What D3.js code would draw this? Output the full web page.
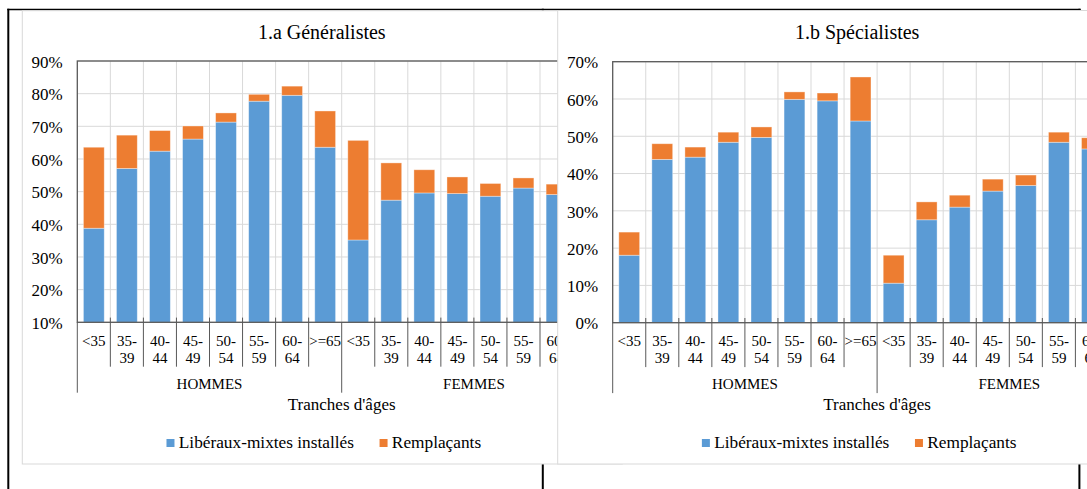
<!DOCTYPE html>
<html lang="fr">
<head>
<meta charset="utf-8">
<title>Généralistes / Spécialistes par tranche d'âges</title>
<script src="https://cdn.jsdelivr.net/npm/d3@7"></script>
<style>
  html, body { margin: 0; padding: 0; background: #fff; }
  svg { display: block; }
  text { font-family: "Liberation Serif", "Times New Roman", serif; fill: #000; }
</style>
</head>
<body>
<div id="chart"></div>
<script>
// age brackets, repeated for each sex
const ageGroups = ["<35", "35-39", "40-44", "45-49", "50-54", "55-59", "60-64", ">=65"];
const sexes = ["HOMMES", "FEMMES"];
const seriesNames = ["Libéraux-mixtes installés", "Remplaçants"];

// 1.a Généralistes, % (hommes then femmes)
const genInstalles   = [38.8, 57.1, 62.4, 66.1, 71.3, 77.7, 79.5, 63.6, 35.2, 47.4, 49.6, 49.4, 48.6, 51.1, 49.1, 45.0];
const genRemplacants = [24.8, 10.2,  6.3,  4.0,  2.8,  2.1,  2.8, 11.1, 30.5, 11.4,  7.1,  5.1,  3.9,  3.1,  3.2,  4.0];
const genTicks = [10, 20, 30, 40, 50, 60, 70, 80, 90];

// 1.b Spécialistes, %
const specInstalles   = [18.1, 43.8, 44.4, 48.4, 49.7, 59.9, 59.5, 54.1, 10.6, 27.6, 31.0, 35.3, 36.8, 48.4, 46.6, 40.0];
const specRemplacants = [ 6.2,  4.2,  2.7,  2.7,  2.8,  2.0,  2.1, 11.8,  7.5,  4.8,  3.2,  3.2,  2.8,  2.7,  3.0,  6.0];
const specTicks = [0, 10, 20, 30, 40, 50, 60, 70];

const colors = ["#5b9bd5", "#ed7d31"];
const W = 1087, H = 489;

const svg = d3.select("#chart").append("svg")
    .attr("width", W)
    .attr("height", H);

// table frame around the two charts
const frame = svg.append("g").attr("stroke", "#000").attr("fill", "none");
frame.append("line")
    .attr("x1", 7.3).attr("x2", 1080.7)
    .attr("y1", 9.5).attr("y2", 9.5)
    .attr("stroke-width", 1.5);
[8.3, 542.8, 1079.4].forEach(x => {
    frame.append("line")
        .attr("x1", x).attr("x2", x)
        .attr("y1", 8.8).attr("y2", H)
        .attr("stroke-width", 2);
});

const panels = [
    { title: "1.a Généralistes", installes: genInstalles, remplacants: genRemplacants, ticks: genTicks,
      area: { x: 22.3, y: 10.7, w: 600, bottom: 464 },
      plot: { x: 77.3, y: 61, w: 528.8, h: 261.3 } },
    { title: "1.b Spécialistes", installes: specInstalles, remplacants: specRemplacants, ticks: specTicks,
      area: { x: 557.7, y: 10.5, w: 600, bottom: 464 },
      plot: { x: 612.7, y: 61.7, w: 528.8, h: 261 } }
];

panels.forEach(p => drawPanel(p));

function drawPanel(p) {
    const g = svg.append("g");
    const cats = sexes.flatMap(s => ageGroups.map(a => s + "|" + a));
    const bottom = p.plot.y + p.plot.h;
    const right = p.plot.x + p.plot.w;

    const x = d3.scaleBand()
        .domain(cats)
        .range([p.plot.x, right])
        .paddingInner(0.37)
        .paddingOuter(0.185);

    const y = d3.scaleLinear()
        .domain([p.ticks[0], p.ticks[p.ticks.length - 1]])
        .range([bottom, p.plot.y])
        .clamp(true);

    // chart area (white, covers whatever is behind)
    g.append("rect")
        .attr("x", p.area.x)
        .attr("y", p.area.y)
        .attr("width", p.area.w)
        .attr("height", p.area.bottom - p.area.y)
        .attr("fill", "#fff")
        .attr("stroke", "#d9d9d9");

    const cx = p.area.x + p.area.w / 2;

    g.append("text")
        .attr("x", cx - 0.5)
        .attr("y", 39.3)
        .attr("text-anchor", "middle")
        .style("font-size", "20px")
        .text(p.title);

    // gridlines
    g.append("g").selectAll("line")
        .data(p.ticks)
        .enter().append("line")
        .attr("x1", p.plot.x).attr("x2", right)
        .attr("y1", d => y(d)).attr("y2", d => y(d))
        .attr("stroke", "#d9d9d9");

    const step = x.step();
    const bounds = d3.range(cats.length + 1).map(i => p.plot.x + step * i);
    g.append("g").selectAll("line")
        .data(bounds.slice(1, -1))
        .enter().append("line")
        .attr("x1", d => d).attr("x2", d => d)
        .attr("y1", p.plot.y).attr("y2", bottom)
        .attr("stroke", "#d9d9d9");

    // stacked bars
    const rows = cats.map((c, i) => ({ cat: c, installes: p.installes[i], remplacants: p.remplacants[i] }));
    const stacked = d3.stack().keys(["installes", "remplacants"])(rows);

    g.append("g").selectAll("g")
        .data(stacked)
        .enter().append("g")
        .attr("fill", (d, i) => colors[i])
        .selectAll("rect")
        .data(d => d)
        .enter().append("rect")
        .attr("x", d => x(d.data.cat))
        .attr("y", d => y(d[1]))
        .attr("width", x.bandwidth())
        .attr("height", d => y(d[0]) - y(d[1]))
        .attr("stroke", "#fff")
        .attr("stroke-opacity", 0.45)
        .attr("stroke-width", 0.8);

    // plot border
    g.append("rect")
        .attr("x", p.plot.x).attr("y", p.plot.y)
        .attr("width", p.plot.w).attr("height", p.plot.h)
        .attr("fill", "none")
        .attr("stroke", "#595959")
        .attr("stroke-width", 1.3);

    // y axis
    const yAxis = d3.axisLeft(y)
        .tickValues(p.ticks)
        .tickSize(0)
        .tickPadding(14.6)
        .tickFormat(d => d + "%");
    const ag = g.append("g")
        .attr("transform", `translate(${p.plot.x},0)`)
        .call(yAxis);
    ag.select(".domain").remove();
    ag.attr("font-size", 17);
    ag.selectAll("text").attr("dy", "0.37em");

    // multi-level category axis
    const tickG = g.append("g").attr("stroke", "#595959");
    bounds.forEach((bx, i) => {
        const groupEdge = i % ageGroups.length === 0;
        tickG.append("line")
            .attr("x1", bx).attr("x2", bx)
            .attr("y1", groupEdge ? bottom : bottom - 4.7)
            .attr("y2", groupEdge ? bottom + 70.4 : bottom + 44.4);
    });

    const lab = g.append("g")
        .attr("text-anchor", "middle")
        .style("font-size", "15px");
    cats.forEach(c => {
        const age = c.split("|")[1];
        const lines = age.includes("-") ? [age.split("-")[0] + "-", age.split("-")[1]] : [age];
        const t = lab.append("text")
            .attr("x", x(c) + x.bandwidth() / 2)
            .attr("y", bottom + 23.4);
        lines.forEach((l, k) => {
            t.append("tspan")
                .attr("x", x(c) + x.bandwidth() / 2)
                .attr("dy", k === 0 ? 0 : 17)
                .text(l);
        });
    });

    sexes.forEach((s, i) => {
        const x0 = bounds[i * ageGroups.length];
        const x1 = bounds[(i + 1) * ageGroups.length];
        lab.append("text")
            .attr("x", (x0 + x1) / 2)
            .attr("y", bottom + 66.7)
            .text(s);
    });

    g.append("text")
        .attr("x", (p.plot.x + right) / 2)
        .attr("y", 410)
        .attr("text-anchor", "middle")
        .style("font-size", "17px")
        .text("Tranches d'âges");

    // legend, centred on the chart area
    const leg = g.append("g");
    let lx = 0;
    seriesNames.forEach((name, i) => {
        const item = leg.append("g").attr("transform", `translate(${lx},0)`);
        item.append("rect")
            .attr("x", 0).attr("y", 439)
            .attr("width", 8).attr("height", 8)
            .attr("fill", colors[i]);
        const t = item.append("text")
            .attr("x", 12.3).attr("y", 448.3)
            .style("font-size", "17.3px")
            .text(name);
        lx += 12.3 + t.node().getComputedTextLength() + 25.6;
    });
    const legW = lx - 25.6;
    leg.attr("transform", `translate(${cx + 1.5 - legW / 2},0)`);
}
</script>
</body>
</html>
